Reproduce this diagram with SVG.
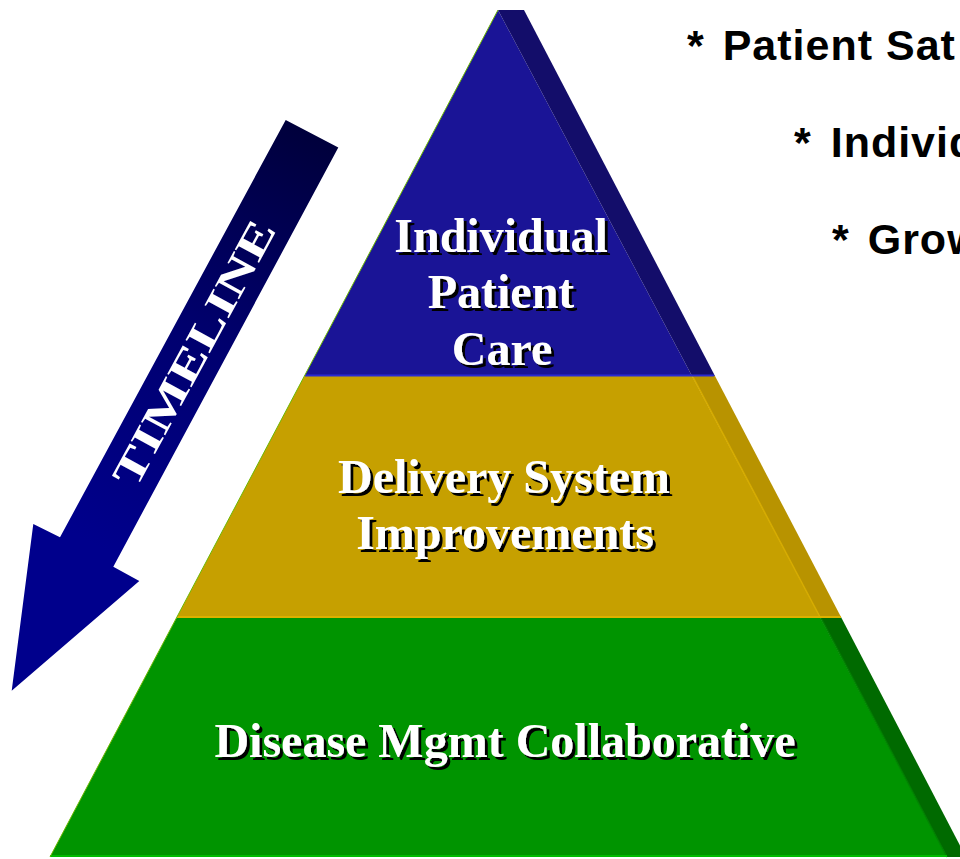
<svg xmlns="http://www.w3.org/2000/svg" width="960" height="859" viewBox="0 0 960 859">
  <defs>
    <linearGradient id="arrowGrad" gradientUnits="userSpaceOnUse" x1="312" y1="125" x2="95" y2="545">
      <stop offset="0" stop-color="#00003a"/>
      <stop offset="0.5" stop-color="#00006e"/>
      <stop offset="1" stop-color="#00008c"/>
    </linearGradient>
    <filter id="shadow" x="-10%" y="-20%" width="130%" height="150%">
      <feDropShadow dx="3" dy="3" stdDeviation="0" flood-color="#000000" flood-opacity="1"/>
    </filter>
    <style>
      .tier { font-family: "Liberation Serif", "Times New Roman", serif; font-weight: bold; font-size: 48px; fill: #ffffff; text-anchor: middle; filter: url(#shadow); }
      .note { font-family: "Liberation Sans", Arial, sans-serif; font-weight: bold; font-size: 43px; fill: #000000; letter-spacing: 1px; }
      .timeline { font-family: "Liberation Serif", "Times New Roman", serif; font-weight: bold; font-size: 42px; fill: #ffffff; text-anchor: middle; }
    </style>
  </defs>
  <rect x="0" y="0" width="960" height="859" fill="#ffffff"/>

  <g id="tier-disease">
    <polygon points="177,617 820,617 947,857 50,857" fill="#009400"/>
    <polygon points="820,617 841,617 966,857 947,857" fill="#006a00"/>
    <line x1="821" y1="618" x2="947" y2="857" stroke="#008200" stroke-width="1.5"/>
    <line x1="50" y1="856" x2="947" y2="856" stroke="#00bb00" stroke-width="2"/>
    <text class="tier" x="505" y="757">Disease Mgmt Collaborative</text>
  </g>

  <g id="tier-delivery">
    <polygon points="304.4,376 692,376 820,617 177,617" fill="#c6a000"/>
    <polygon points="692,376 715,376 841,617 820,617" fill="#b89300"/>
    <line x1="693" y1="377" x2="820" y2="617" stroke="#d6ac00" stroke-width="1.5"/>
    <line x1="177" y1="617" x2="841" y2="617" stroke="#dcb000" stroke-width="2"/>
    <text class="tier" x="504" y="493">Delivery System</text>
    <text class="tier" x="505" y="549">Improvements</text>
  </g>

  <g id="tier-individual">
    <polygon points="498,10 692,376 304.4,376" fill="#1a1496"/>
    <polygon points="498,10 524,10 715,376 692,376" fill="#130d6a"/>
    <line x1="305" y1="375.5" x2="714" y2="375.5" stroke="#2a2ad2" stroke-width="2"/>
    <text class="tier" x="501" y="252">Individual</text>
    <text class="tier" x="501" y="308">Patient</text>
    <text class="tier" x="502" y="365">Care</text>
  </g>

  <line id="left-edge" x1="498" y1="10" x2="50" y2="857" stroke="#6cb800" stroke-width="1"/>

  <g id="timeline">
    <polygon points="285.7,120 338.3,147.6 113.3,566.7 139.3,581 11.7,690.7 33.3,524 60,537.3" fill="url(#arrowGrad)"/>
    <text class="timeline" transform="translate(194,353) rotate(-61.5)" x="0" y="14" textLength="296" lengthAdjust="spacingAndGlyphs">TIMELINE</text>
  </g>

  <g id="notes">
    <text class="note" x="687" y="60">*<tspan dx="5"> Patient Sat</tspan></text>
    <text class="note" x="794" y="157">*<tspan dx="6"> Individ</tspan></text>
    <text class="note" x="832" y="254">*<tspan dx="5"> Grow</tspan></text>
  </g>
</svg>
